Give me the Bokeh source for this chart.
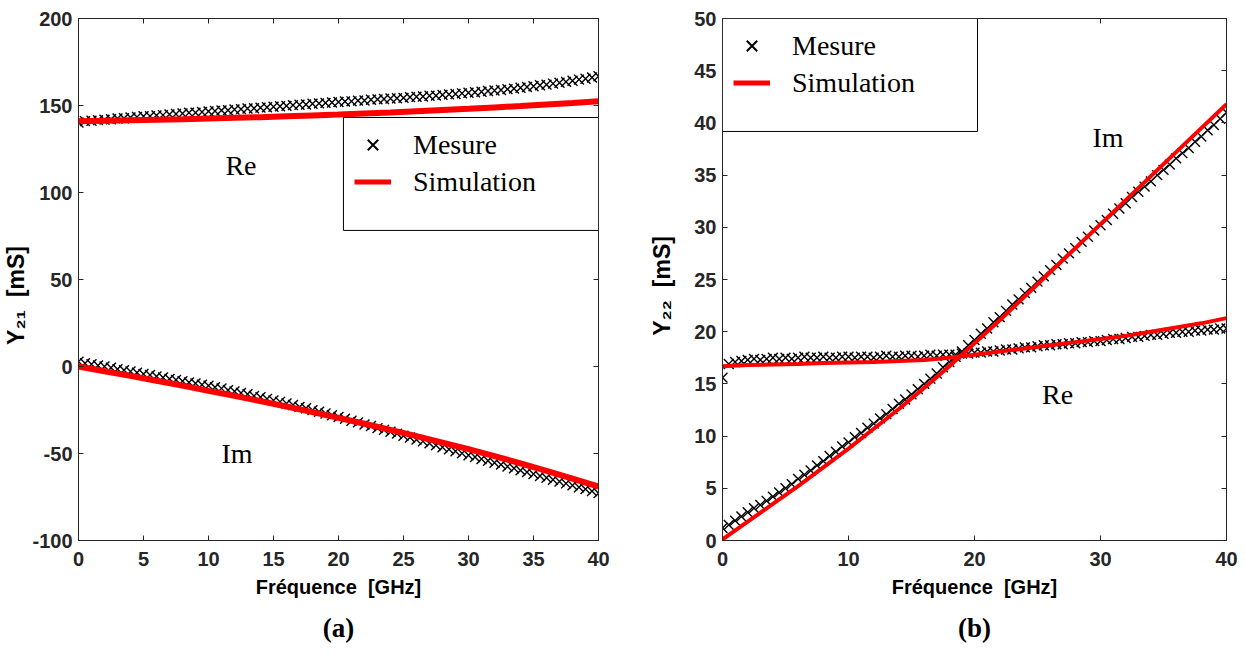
import numpy as np
from bokeh.plotting import figure
from bokeh.models import Range1d, LinearAxis, FixedTicker, Label, Legend, LegendItem, BoxAnnotation
from bokeh.layouts import row
from bokeh.embed import file_html
from bokeh.resources import INLINE

# ---------------- data ----------------
freq_meas = [i * 0.5 for i in range(81)]          # 0 .. 40 GHz, 0.5 GHz step
freq_sim = [i * 2.0 for i in range(21)]           # 0 .. 40 GHz, 2 GHz step

# (a) Y21 [mS]
y21_re_meas = [140.2, 141.0, 141.2, 141.6, 141.9, 142.1, 142.5, 142.7, 143.1, 143.4,
               143.8, 143.9, 144.3, 144.5, 144.9, 145.1, 145.4, 145.8, 145.9, 146.3,
               146.6, 146.8, 147.2, 147.3, 147.7, 147.9, 148.3, 148.4, 148.8, 149.0,
               149.3, 149.6, 149.8, 150.2, 150.4, 150.6, 151.0, 151.2, 151.5, 151.7,
               152.0, 152.3, 152.4, 152.8, 152.9, 153.3, 153.5, 153.7, 154.0, 154.2,
               154.4, 154.8, 155.0, 155.2, 155.6, 155.7, 156.1, 156.4, 156.6, 157.0,
               157.3, 157.6, 157.9, 158.3, 158.6, 158.9, 159.4, 159.7, 160.2, 160.6,
               161.1, 161.6, 162.0, 162.6, 163.1, 163.6, 164.2, 164.9, 165.4, 166.1,
               166.8]
y21_im_meas = [2.8, 1.9, 1.3, 0.6, 0.0, -0.7, -1.5, -2.1, -2.9, -3.5,
               -4.3, -4.9, -5.7, -6.3, -7.1, -7.7, -8.4, -9.1, -9.7, -10.5,
               -11.0, -11.9, -12.6, -13.6, -14.3, -15.2, -15.9, -16.9, -17.6, -18.6,
               -19.5, -20.3, -21.3, -22.1, -23.2, -24.0, -25.1, -26.0, -27.0, -28.0,
               -29.0, -30.0, -31.2, -32.1, -33.3, -34.2, -35.4, -36.4, -37.5, -38.6,
               -39.8, -40.8, -42.0, -43.0, -44.2, -45.3, -46.4, -47.6, -48.7, -49.9,
               -51.0, -52.0, -53.2, -54.2, -55.3, -56.4, -57.5, -58.5, -59.7, -60.7,
               -61.8, -62.9, -63.9, -65.1, -66.1, -67.2, -68.3, -69.4, -70.5, -71.6,
               -72.8]
y21_re_sim = [141.0, 141.2, 141.5, 141.8, 142.1, 142.5, 142.9, 143.3, 143.8, 144.3,
              144.8, 145.4, 146.0, 146.7, 147.4, 148.1, 148.9, 149.7, 150.6, 151.5, 152.5]
y21_im_sim = [0.0, -2.7, -5.4, -8.2, -11.0, -14.0, -16.9, -19.9, -23.0, -26.2,
              -29.5, -32.9, -36.4, -40.0, -43.7, -47.5, -51.5, -55.7, -60.0, -64.4, -69.0]

# (b) Y22 [mS]
y22_re_meas = [15.6, 16.9, 17.1, 17.2, 17.3, 17.4, 17.3, 17.4, 17.5, 17.4,
               17.5, 17.4, 17.5, 17.6, 17.5, 17.5, 17.6, 17.5, 17.5, 17.6,
               17.6, 17.5, 17.6, 17.6, 17.5, 17.6, 17.7, 17.6, 17.6, 17.7,
               17.7, 17.6, 17.7, 17.8, 17.7, 17.8, 17.8, 17.8, 17.9, 17.9,
               18.0, 18.0, 18.1, 18.1, 18.2, 18.3, 18.3, 18.4, 18.5, 18.5,
               18.6, 18.7, 18.7, 18.8, 18.8, 18.9, 18.9, 19.0, 19.0, 19.1,
               19.1, 19.2, 19.3, 19.3, 19.4, 19.5, 19.5, 19.6, 19.7, 19.7,
               19.8, 19.9, 19.9, 20.0, 20.0, 20.1, 20.1, 20.2, 20.2, 20.3,
               20.3]
y22_im_meas = [1.2, 1.5, 1.9, 2.3, 2.7, 3.1, 3.4, 3.8, 4.2, 4.6,
               5.0, 5.4, 5.9, 6.3, 6.7, 7.2, 7.6, 8.1, 8.5, 9.0,
               9.4, 9.9, 10.3, 10.8, 11.2, 11.7, 12.1, 12.6, 13.1, 13.5,
               14.0, 14.5, 15.0, 15.5, 16.0, 16.6, 17.1, 17.6, 18.1, 18.7,
               19.2, 19.8, 20.3, 20.9, 21.4, 22.0, 22.6, 23.1, 23.7, 24.2,
               24.8, 25.3, 25.9, 26.4, 27.0, 27.5, 28.0, 28.6, 29.1, 29.7,
               30.2, 30.7, 31.3, 31.8, 32.3, 32.9, 33.4, 33.9, 34.4, 35.0,
               35.5, 36.0, 36.6, 37.1, 37.6, 38.2, 38.7, 39.3, 39.8, 40.4,
               41.0]
y22_re_sim = [16.7, 16.8, 16.85, 16.9, 17.0, 17.05, 17.1, 17.2, 17.3, 17.5,
              17.8, 18.1, 18.4, 18.7, 19.0, 19.3, 19.6, 20.0, 20.4, 20.8, 21.3]
y22_im_sim = [0.1, 1.8, 3.5, 5.2, 7.0, 8.8, 10.7, 12.6, 14.6, 16.7,
              18.9, 21.1, 23.4, 25.7, 28.0, 30.3, 32.6, 34.9, 37.2, 39.5, 41.8]

xticks_a = [0, 5, 10, 15, 20, 25, 30, 35, 40]
yticks_a = [-100, -50, 0, 50, 100, 150, 200]
xticks_b = [0, 10, 20, 30, 40]
yticks_b = [0, 5, 10, 15, 20, 25, 30, 35, 40, 45, 50]

legend_labels = ["Mesure", "Simulation"]
x_label = "Fréquence\u00a0 [GHz]"
y_labels = ["Y\u2082\u2081\u00a0 [mS]" + "\u00a0" * 5, "Y\u2082\u2082\u00a0 [mS]" + "\u00a0" * 2]
panel_tags = ["(a)", "(b)"]

# ---------------- style ----------------
AX = "#262626"
SANS = "Liberation Sans"
SERIF = "Liberation Serif"


def make_fig(width, ml, mr, xr, yr, xt, yt, ylab, tag, ystand):
    p = figure(width=width, height=657, x_range=Range1d(*xr), y_range=Range1d(*yr),
               output_backend="svg", toolbar_location=None,
               min_border_left=ml, min_border_right=mr, min_border_top=18, min_border_bottom=117,
               title=tag, title_location="below")
    p.title.align = "center"
    p.title.text_font = SERIF
    p.title.text_font_style = "bold"
    p.title.text_font_size = "27px"
    p.title.text_color = "black"
    p.title.standoff = 21
    p.grid.visible = False
    p.outline_line_color = AX
    p.outline_line_width = 1
    p.background_fill_color = "white"
    p.border_fill_color = "white"
    for ax, t in ((p.xaxis[0], xt), (p.yaxis[0], yt)):
        ax.ticker = FixedTicker(ticks=t)
        ax.major_label_overrides = {v: str(v) for v in t}
        ax.major_tick_in = 5
        ax.major_tick_out = 0
        ax.minor_tick_line_color = None
        ax.axis_line_color = AX
        ax.major_tick_line_color = AX
        ax.major_label_text_font = SANS
        ax.major_label_text_font_style = "bold"
        ax.major_label_text_font_size = "20px"
        ax.major_label_text_color = AX
    p.xaxis.major_label_standoff = 11
    p.yaxis.major_label_standoff = 6
    for ax, lab, st, fs in ((p.xaxis[0], x_label, 7, "20px"), (p.yaxis[0], ylab, ystand, "23px")):
        ax.axis_label = lab
        ax.axis_label_text_font = SANS
        ax.axis_label_text_font_style = "bold"
        ax.axis_label_text_font_size = fs
        ax.axis_label_text_color = "black"
        ax.axis_label_standoff = st
    # box ticks on top and right (no labels)
    for loc, t in (("above", xt), ("right", yt)):
        a = LinearAxis(ticker=FixedTicker(ticks=t), major_tick_in=5, major_tick_out=0,
                       minor_tick_line_color=None, axis_line_color=AX, major_tick_line_color=AX,
                       major_label_overrides={v: "" for v in t}, major_label_standoff=0)
        p.add_layout(a, loc)
    return p


def add_legend(p, box, loc, sim_w):
    bl, br, bt, bb = box
    p.add_layout(BoxAnnotation(left=bl, right=br, top=bt, bottom=bb, fill_color="white",
                               fill_alpha=1.0, line_color="black", line_alpha=1.0, line_width=1))
    nan = np.array([np.nan])
    dx = p.scatter(x=nan, y=nan, marker="x", size=15, line_color="black", line_width=2)
    dl = p.line(x=nan, y=nan, line_color="red", line_width=sim_w)
    leg = Legend(items=[LegendItem(label=legend_labels[0], renderers=[dx]),
                        LegendItem(label=legend_labels[1], renderers=[dl])],
                 location=loc, margin=0, padding=11, spacing=0,
                 glyph_width=37, glyph_height=37, label_height=37, label_width=169,
                 label_standoff=22, label_text_font=SERIF, label_text_font_size="28px",
                 label_text_color="black", border_line_alpha=0, background_fill_alpha=0)
    p.add_layout(leg)


def tag(p, x, y, txt):
    p.add_layout(Label(x=x, y=y, text=txt, text_align="center", text_baseline="middle",
                       text_font=SERIF, text_font_size="28px", text_color="black"))


MS = 14
MW = 1.4

# ---------------- panel (a) ----------------
pa = make_fig(640, 78, 42, (0, 40), (-100, 200), xticks_a, yticks_a, y_labels[0], panel_tags[0], 0)
for ys in (y21_re_meas, y21_im_meas):
    pa.scatter(freq_meas, ys, marker="x", size=MS, line_color="black", line_width=MW)
for ys in (y21_re_sim, y21_im_sim):
    pa.line(freq_sim, ys, line_color="red", line_width=6)
add_legend(pa, (20.38, 40, 143.1, 78.2), (265, 329), 5)
tag(pa, 12.5, 115.5, "Re")
tag(pa, 12.2, -50.0, "Im")

# ---------------- panel (b) ----------------
pb = make_fig(606, 82, 20, (0, 40), (0, 50), xticks_b, yticks_b, y_labels[1], panel_tags[1], 16)
for ys in (y22_re_meas, y22_im_meas):
    pb.scatter(freq_meas, ys, marker="x", size=MS, line_color="black", line_width=MW)
for ys in (y22_re_sim, y22_im_sim):
    pb.line(freq_sim, ys, line_color="red", line_width=4)
add_legend(pb, (0, 20.24, 50, 39.18), (0, 428), 5)
tag(pb, 30.6, 38.6, "Im")
tag(pb, 26.6, 14.0, "Re")

layout = row(pa, pb)
open("out.html", "w").write(file_html(layout, INLINE))
